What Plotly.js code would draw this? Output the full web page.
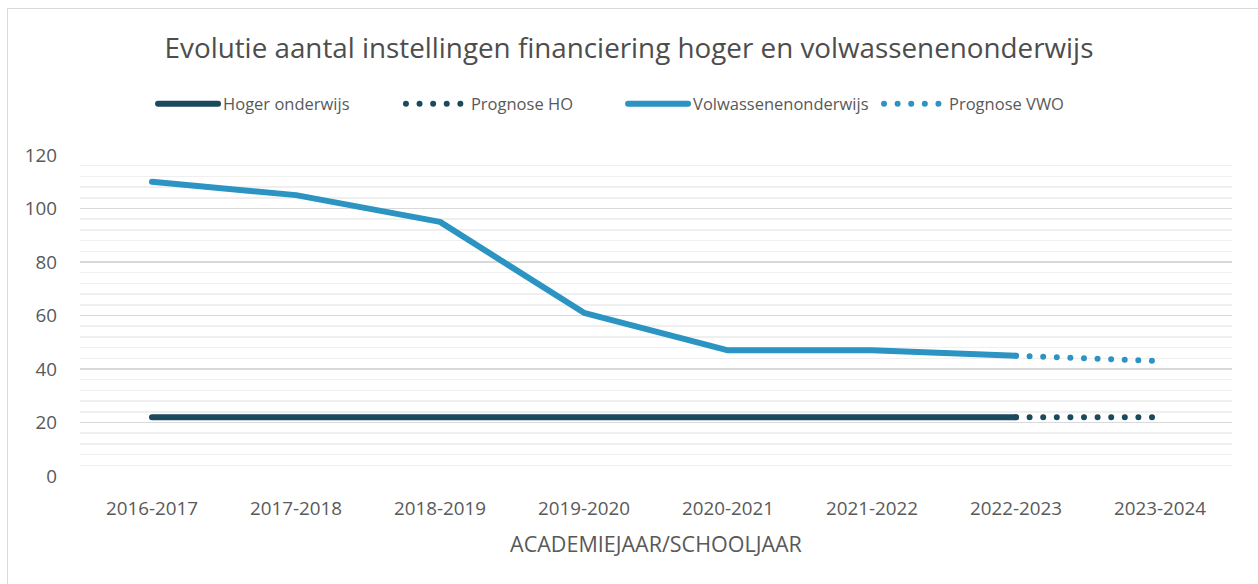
<!DOCTYPE html>
<html>
<head>
<meta charset="utf-8">
<script src="https://cdn.plot.ly/plotly-3.0.1.min.js"></script>
<style>
html,body{margin:0;padding:0;background:#fff;}
#wrap{position:relative;width:1258px;height:584px;overflow:hidden;}
#frame{position:absolute;left:7px;top:8px;width:1270px;height:600px;border:1px solid #d9d9d9;box-sizing:border-box;pointer-events:none;}
#chart{position:absolute;left:0;top:0;width:1258px;height:584px;}
.js-line{stroke-linecap:round;stroke-linejoin:round;}
.legendlines path{stroke-linecap:round;}
</style>
</head>
<body>
<div id="wrap">
<div id="chart"></div>
<div id="frame"></div>
</div>
<script>
const categories = ["2016-2017","2017-2018","2018-2019","2019-2020","2020-2021","2021-2022","2022-2023","2023-2024"];
const hogerOnderwijs = [22,22,22,22,22,22,22,null];
const prognoseHO = [null,null,null,null,null,null,22,22];
const volwassenenonderwijs = [110,105,95,61,47,47,45,null];
const prognoseVWO = [null,null,null,null,null,null,45,43];
const yTicks = [0,20,40,60,80,100,120];

const darkCol = '#1b4a5e';
const blueCol = '#2b94c2';
const dotDash = '0px,13.6px';

const traces = [
  {x:categories, y:hogerOnderwijs, name:'Hoger onderwijs', mode:'lines', line:{color:darkCol, width:6}, legend:'legend'},
  {x:categories, y:prognoseHO, name:'Prognose HO', mode:'lines', line:{color:darkCol, width:6, dash:dotDash}, legend:'legend2'},
  {x:categories, y:volwassenenonderwijs, name:'Volwassenenonderwijs', mode:'lines', line:{color:blueCol, width:6}, legend:'legend3'},
  {x:categories, y:prognoseVWO, name:'Prognose VWO', mode:'lines', line:{color:blueCol, width:6, dash:dotDash}, legend:'legend4'}
];

function leg(x){
  return {orientation:'h', x:x, xanchor:'left', y:1.159, yanchor:'middle',
          font:{size:16.5, color:'#595959'}, itemwidth:60, bgcolor:'rgba(0,0,0,0)'};
}

const layout = {
  width:1258, height:584,
  margin:{l:80, r:26, t:155, b:108},
  paper_bgcolor:'rgba(0,0,0,0)', plot_bgcolor:'#fff',
  font:{family:'"Open Sans", Lato, sans-serif', color:'#595959'},
  title:{text:'Evolutie aantal instellingen financiering hoger en volwassenenonderwijs',
         font:{size:27.8, color:'#4d4d4d'}, x:0.5, xanchor:'center', y:0.918, yanchor:'middle'},
  showlegend:true,
  legend:leg(0.0634),
  legend2:leg(0.2786),
  legend3:leg(0.4714),
  legend4:leg(0.6936),
  xaxis:{type:'category', tickvals:categories, ticktext:categories, showgrid:false, zeroline:false,
         showline:false, ticks:'', tickfont:{size:18.8, color:'#595959'}, ticklabelstandoff:19,
         range:[-0.5, categories.length-0.5],
         title:{text:'ACADEMIEJAAR/SCHOOLJAAR', font:{size:21.5, color:'#595959'}, standoff:17}},
  yaxis:{range:[0,120], tickvals:yTicks, ticktext:yTicks.map(String), showgrid:true, gridcolor:'#d9d9d9', gridwidth:1.5,
         zeroline:false, showline:false, ticks:'', tickfont:{size:18.8, color:'#595959'}, ticklabelstandoff:22,
         minor:{dtick:4, tick0:0, showgrid:true, gridcolor:'#efefef', gridwidth:1.5}}
};

Plotly.newPlot('chart', traces, layout, {displayModeBar:false, staticPlot:true});
</script>
</body>
</html>
